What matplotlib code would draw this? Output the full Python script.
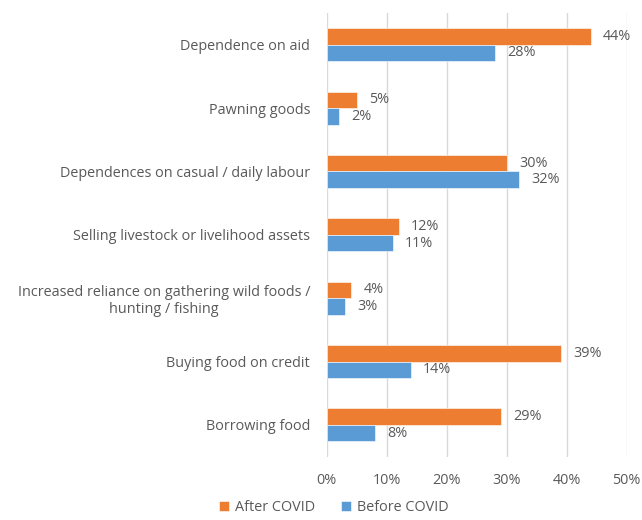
import numpy as np
import matplotlib.pyplot as plt

plt.rcParams['font.family'] = ['Open Sans', 'DejaVu Sans']

# Data
categories = ["Dependence on aid",
              "Pawning goods",
              "Dependences on casual / daily labour",
              "Selling livestock or livelihood assets",
              "Increased reliance on gathering wild foods /\nhunting / fishing",
              "Buying food on credit",
              "Borrowing food"]
after_covid = [44, 5, 30, 12, 4, 39, 29]
before_covid = [28, 2, 32, 11, 3, 14, 8]
xticks = [0, 10, 20, 30, 40, 50]

orange = '#ED7D31'
blue = '#5B9BD5'
text_col = '#595959'
fs = 10.4

fig = plt.figure(figsize=(6.42, 5.2), dpi=100)
ax = fig.add_axes([0.509, 0.122, 0.467, 0.853])

y = np.arange(len(categories))
h = 0.26
b1 = ax.barh(y - h / 2, after_covid, height=h, color=orange, edgecolor='white',
             linewidth=0.4, label='After COVID', zorder=3)
b2 = ax.barh(y + h / 2, before_covid, height=h, color=blue, edgecolor='white',
             linewidth=0.4, label='Before COVID', zorder=3)

for bars in (b1, b2):
    ax.bar_label(bars, labels=[f"{int(v)}%" for v in bars.datavalues],
                 padding=9, fontsize=fs, color=text_col)

ax.set_ylim(len(categories) - 0.5, -0.5)
ax.set_xlim(0, 50)
ax.set_yticks(y)
ax.set_yticklabels(categories, fontsize=fs, color=text_col, multialignment='center')
ax.set_xticks(xticks)
ax.set_xticklabels([f"{t}%" for t in xticks], fontsize=fs, color=text_col)
ax.tick_params(length=0, pad=12)
ax.tick_params(axis='y', pad=12)
ax.grid(axis='x', color='#D9D9D9', linewidth=1, zorder=0)
for s in ax.spines.values():
    s.set_visible(False)

fig.legend(handles=[b1, b2], loc='lower center', bbox_to_anchor=(0.52, -0.015),
           ncol=2, frameon=False, fontsize=fs, handlelength=0.7, handleheight=0.7,
           handletextpad=0.4, columnspacing=1.8, labelcolor=text_col)

fig.savefig('out.png', dpi=100)
